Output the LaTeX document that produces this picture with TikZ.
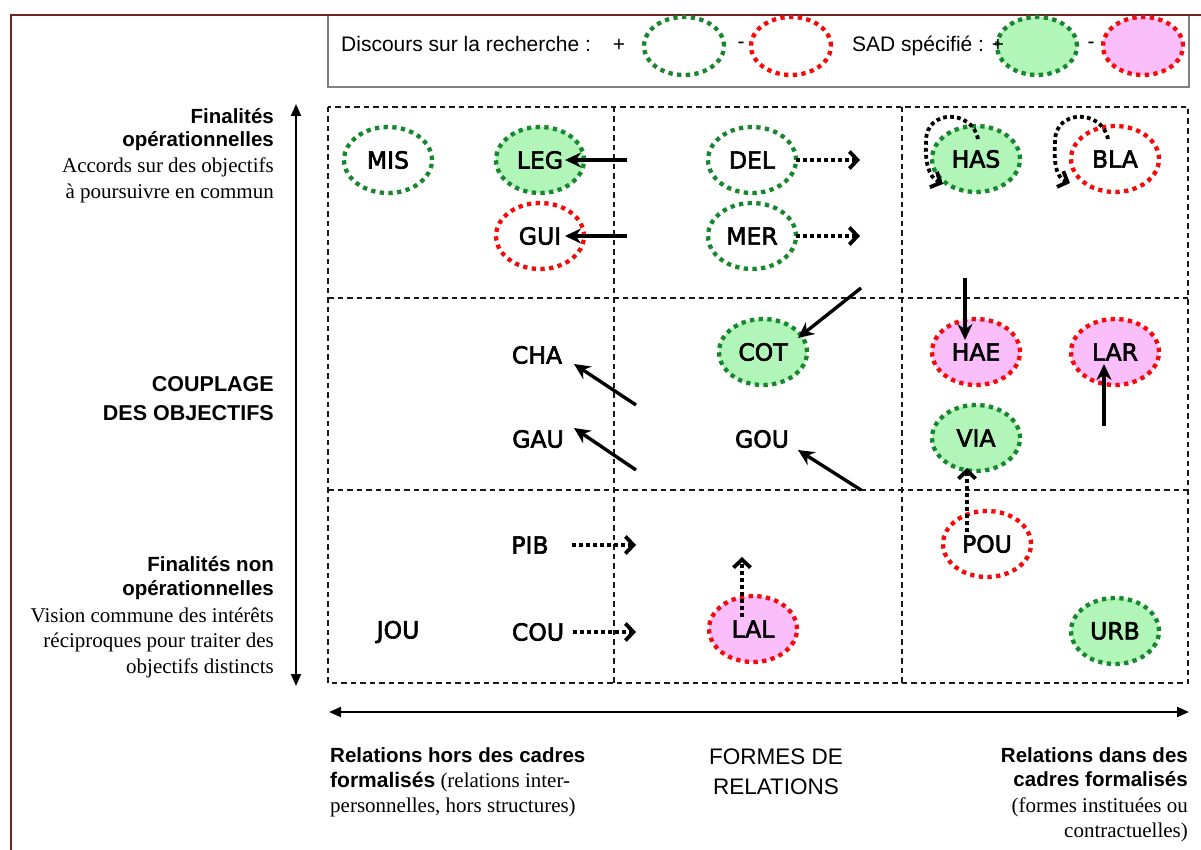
\documentclass[tikz,border=0pt]{standalone}
\usepackage{fontspec}
\setmainfont{Liberation Serif}
\setsansfont{Liberation Sans}
\newfontfamily\nodefont{DejaVu Sans}[FakeBold=2.6]
\usetikzlibrary{shapes.geometric,arrows.meta}
\definecolor{dgreen}{RGB}{22,135,45}
\definecolor{dred}{RGB}{245,10,10}
\definecolor{lgreen}{RGB}{178,245,185}
\definecolor{lpink}{RGB}{250,190,250}
\definecolor{framecol}{RGB}{110,36,36}
\begin{document}
\begin{tikzpicture}[x=1pt,y=-1pt,
  oval/.style={ellipse, minimum width=88pt, minimum height=66pt, inner sep=0pt,
    font=\nodefont\fontsize{23.5}{26}\selectfont, line width=4.3pt, dash pattern=on 4.3pt off 4.4pt},
  gdash/.style={oval, draw=dgreen},
  rdash/.style={oval, draw=dred},
  gfill/.style={oval, draw=dgreen, fill=lgreen},
  pfill/.style={oval, draw=dred, fill=lpink},
  lbl/.style={font=\nodefont\fontsize{23.5}{26}\selectfont, inner sep=4pt},
  solidar/.style={line width=3.4pt, -{Stealth[length=16pt,width=15pt]}},
  dotar/.style={line width=3.8pt, dash pattern=on 3.8pt off 3.2pt, -{Straight Barb[length=8pt,width=17pt]}},
  gridline/.style={line width=1.5pt, dash pattern=on 5.5pt off 4pt, black!90},
  axisar/.style={line width=2pt, {Triangle[length=12pt,width=10pt]}-{Triangle[length=12pt,width=10pt]}},
  bsans/.style={font=\sffamily\bfseries\fontsize{20.5}{24}\selectfont, inner sep=0pt},
  serif/.style={font=\rmfamily\fontsize{21}{24}\selectfont, inner sep=0pt},
  legtxt/.style={font=\sffamily\fontsize{21}{24}\selectfont, inner sep=0pt},
  bigsans/.style={font=\sffamily\fontsize{22.5}{26}\selectfont, inner sep=0pt}]
\useasboundingbox (0,0) rectangle (1201,850);
\fill[white] (0,0) rectangle (1201,850);

% legend box
\draw[black!50, line width=1.3pt] (328,15) rectangle (1189,87);
\draw[framecol, line width=2.4pt] (11,850) -- (11,15) -- (1201,15);

\node[legtxt, anchor=base west] (lg1) at (341,52) {Discours sur la recherche :};
\node[legtxt] (lgp1) at (619,45) {+};
\node[gdash, minimum width=80pt, minimum height=58pt] (lgA) at (684,46) {};
\node[legtxt] (lgm1) at (741,45) {-};
\node[rdash, minimum width=80pt, minimum height=58pt] (lgB) at (791,46) {};
\node[gfill, minimum width=80pt, minimum height=58pt] (lgC) at (1037,46) {};
\node[pfill, minimum width=80pt, minimum height=58pt] (lgD) at (1143,46) {};
\node[legtxt, anchor=base west] (lg2) at (852,52) {SAD spécifié : +};
\node[legtxt] (lgm2) at (1091,45) {-};

% grid
\draw[gridline] (328,107) rectangle (1188,683);
\draw[gridline] (328,298) -- (1188,298);
\draw[gridline] (328,490) -- (1188,490);
\draw[gridline] (614,107) -- (614,683);
\draw[gridline] (902,107) -- (902,683);

% axes
\coordinate (axT) at (296,104);
\coordinate (axB) at (296,686);
\coordinate (axL) at (329,712);
\coordinate (axR) at (1189,712);
\draw[axisar] (axT) -- (axB);
\draw[axisar] (axL) -- (axR);

% left labels
\node[bsans, anchor=base east] (f1) at (274,124) {Finalités};
\node[bsans, anchor=base east] (f2) at (274,147) {opérationnelles};
\node[serif, anchor=base east] (f3) at (274,173) {Accords sur des objectifs};
\node[serif, anchor=base east] (f4) at (274,199) {à poursuivre en commun};
\node[bsans, font=\sffamily\bfseries\fontsize{21.5}{24}\selectfont, anchor=base east] (c1) at (274,391) {COUPLAGE};
\node[bsans, font=\sffamily\bfseries\fontsize{21.5}{24}\selectfont, anchor=base east] (c2) at (274,420) {DES OBJECTIFS};
\node[bsans, anchor=base east] (n1) at (274,571) {Finalités non};
\node[bsans, anchor=base east] (n2) at (274,595) {opérationnelles};
\node[serif, anchor=base east] (n3) at (274,622) {Vision commune des intérêts};
\node[serif, anchor=base east] (n4) at (274,647) {réciproques pour traiter des};
\node[serif, anchor=base east] (n5) at (274,673) {objectifs distincts};

% bottom labels
\node[bsans, anchor=base west] (b1) at (330,762) {Relations hors des cadres};
\node[serif, anchor=base west] (b2) at (330,787) {{\sffamily\bfseries formalisés} (relations inter-};
\node[serif, anchor=base west] (b3) at (330,812) {personnelles, hors structures)};
\node[bigsans, anchor=base] (m1) at (776,764) {FORMES DE};
\node[bigsans, anchor=base] (m2) at (776,794) {RELATIONS};
\node[bsans, anchor=base east] (r1) at (1188,762) {Relations dans des};
\node[bsans, anchor=base east] (r2) at (1188,786) {cadres formalisés};
\node[serif, anchor=base east] (r3) at (1188,812) {(formes instituées ou};
\node[serif, anchor=base east] (r4) at (1188,837) {contractuelles)};

% nodes
\node[gdash] (MIS) at (388,160) {MIS};
\node[gfill] (LEG) at (540,160) {LEG};
\node[rdash] (GUI) at (540,236) {GUI};
\node[gdash] (DEL) at (752,160) {DEL};
\node[gdash] (MER) at (752,236) {MER};
\node[gfill] (HAS) at (976,159) {HAS};
\node[rdash] (BLA) at (1115,159) {BLA};
\node[lbl] (CHA) at (537,355) {CHA};
\node[gfill] (COT) at (763,352) {COT};
\node[pfill] (HAE) at (976,352) {HAE};
\node[pfill] (LAR) at (1115,352) {LAR};
\node[lbl] (GAU) at (538,439) {GAU};
\node[lbl] (GOU) at (762,439) {GOU};
\node[gfill] (VIA) at (976,438) {VIA};
\node[lbl] (PIB) at (530,545) {PIB};
\node[rdash] (POU) at (987,544) {POU};
\node[lbl] (JOU) at (398,632) {JOU};
\node[lbl] (COU) at (538,632) {COU};
\node[pfill] (LAL) at (753,629) {LAL};
\node[gfill] (URB) at (1115,631) {URB};

% free ends
\coordinate (legS) at (627,160);
\coordinate (guiS) at (627,236);
\coordinate (delE) at (860,160);
\coordinate (merE) at (860,236);
\coordinate (cotS) at (861,288);
\coordinate (chaS) at (636,405);
\coordinate (gauS) at (636,470);
\coordinate (gouS) at (861,490);
\coordinate (haeS) at (965,278);
\coordinate (larS) at (1104,426);
\coordinate (pibE) at (636,545);
\coordinate (couE) at (636,632);
\coordinate (lalE) at (742,557);

% connectors
\draw[solidar] (legS) -- ([shift={(25,0)}]LEG.center);
\draw[solidar] (guiS) -- ([shift={(25,0)}]GUI.center);
\draw[dotar] ([shift={(44,0)}]DEL.center) -- (delE);
\draw[dotar] ([shift={(44,0)}]MER.center) -- (merE);
\draw[solidar] (cotS) -- ([shift={(35,-14)}]COT.center);
\draw[solidar] (chaS) -- ([shift={(37,9)}]CHA.center);
\draw[solidar] (gauS) -- ([shift={(36,-11)}]GAU.center);
\draw[solidar] (gouS) -- ([shift={(36,11)}]GOU.center);
\draw[solidar] (haeS) -- ([shift={(-11,-12)}]HAE.center);
\draw[solidar] (larS) -- ([shift={(-11,12)}]LAR.center);
\draw[dotar] ([shift={(-20,-12)}]POU.center) -- ([shift={(-9,30)}]VIA.center);
\draw[dotar] ([shift={(42,0)}]PIB.center) -- (pibE);
\draw[dotar] ([shift={(35,0)}]COU.center) -- (couE);
\draw[dotar] ([shift={(-11,-12)}]LAL.center) -- (lalE);

% self loops
\draw[dotar] ([shift={(2,-20)}]HAS.center) .. controls ([shift={(-4,-50)}]HAS.center) and ([shift={(-50,-50)}]HAS.center) .. ([shift={(-50,-18)}]HAS.center) .. controls ([shift={(-51,2)}]HAS.center) and ([shift={(-48,18)}]HAS.center) .. ([shift={(-33,25)}]HAS.center);
\draw[dotar] ([shift={(-7,-20)}]BLA.center) .. controls ([shift={(-13,-50)}]BLA.center) and ([shift={(-60,-50)}]BLA.center) .. ([shift={(-60,-18)}]BLA.center) .. controls ([shift={(-61,2)}]BLA.center) and ([shift={(-60,18)}]BLA.center) .. ([shift={(-45,24)}]BLA.center);
\end{tikzpicture}
\end{document}
